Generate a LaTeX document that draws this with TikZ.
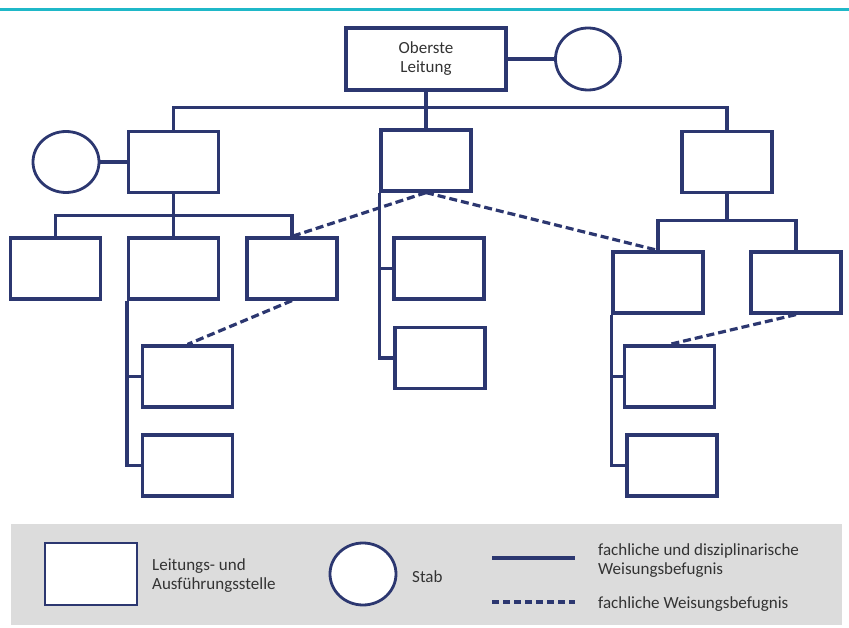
\documentclass[tikz,border=0pt]{standalone}
\usepackage{fontspec}
\setmainfont{Carlito}
\usetikzlibrary{shapes.geometric}
\definecolor{navy}{HTML}{2C3770}
\definecolor{teal2}{HTML}{1FB8C8}
\definecolor{legendgray}{HTML}{DCDCDC}
\definecolor{txt}{HTML}{333333}
\tikzset{
  unit/.style={draw=navy, line width=3.2pt, fill=white, rectangle, minimum width=90pt, minimum height=61pt, inner sep=0pt},
  staff/.style={draw=navy, line width=2.8pt, fill=white, ellipse, minimum width=65pt, minimum height=62pt, inner sep=0pt},
  conn/.style={draw=navy, line width=3.2pt},
  dconn/.style={draw=navy, line width=3.2pt, dash pattern=on 8pt off 4pt},
  lbl/.style={font=\fontsize{17}{19}\selectfont, text=txt, inner sep=0pt}
}
\begin{document}
\begin{tikzpicture}[x=1pt,y=-1pt]
\useasboundingbox (0,0) rectangle (849,628);
% top teal rule
\coordinate (tl) at (0,9.5);
\coordinate (tr) at (849,9.5);
\draw[teal2, line width=2.5pt] (tl) -- (tr);

% boxes
\node[unit, minimum width=160pt, minimum height=62pt, lbl, align=center] (top) at (426,59) {Oberste\\Leitung};
\node[staff] (staffR) at (588,59) {};
\node[unit] (L2a) at (173.5,162) {};
\node[staff, minimum height=61pt, minimum width=66pt] (staffL) at (66,162) {};
\node[unit] (L2b) at (426,160.5) {};
\node[unit] (L2c) at (727,162) {};
\node[unit] (A) at (55.5,268.5) {};
\node[unit] (B) at (173.5,268.5) {};
\node[unit] (C) at (292,268.5) {};
\node[unit] (D) at (187.5,376.5) {};
\node[unit] (E) at (187.5,465.5) {};
\node[unit] (F) at (439,268.5) {};
\node[unit] (G) at (440,358) {};
\node[unit] (H) at (658,282.5) {};
\node[unit] (I) at (796,282.5) {};
\node[unit] (J) at (669.5,376.5) {};
\node[unit] (K) at (672,465.5) {};

% solid connectors
\draw[conn] (top.east) -- (staffR.west);
\draw[conn] (L2a.north) -- ++(0,-22) coordinate (tbus) -| (L2c.north);
\draw[conn] (top.south) -- (L2b.north);
\draw[conn] (staffL.east) -- (L2a.west);
\draw[conn] (A.north) -- ++(0,-21) coordinate (lbus) -| (C.north);
\draw[conn] (L2a.south) -- (B.north);
\draw[conn] (B.south west) |- (E.west);
\draw[conn] (D.west) -- (D.west -| B.south west);
\draw[conn] (L2b.south west) |- (G.west);
\draw[conn] (F.west) -- (F.west -| L2b.south west);
\draw[conn] (H.north) -- ++(0,-29.5) coordinate (rbus) -| (I.north);
\draw[conn] (L2c.south) -- (L2c.south |- rbus);
\draw[conn] (H.south west) |- (K.west);
\draw[conn] (J.west) -- (J.west -| H.south west);

% dashed connectors
\draw[dconn] (L2b.south) -- (C.north);
\draw[dconn] (L2b.south) -- (H.north);
\draw[dconn] (C.south) -- (D.north);
\draw[dconn] (I.south) -- (J.north);

% legend
\fill[legendgray] (11,524) rectangle (842,625);
\node[unit, minimum width=92pt, minimum height=62pt, line width=2.6pt] (legbox) at (91,574) {};
\node[lbl, anchor=west, align=left] (legboxt) at (152,576) {Leitungs- und\\Ausführungsstelle};
\node[staff, minimum width=66pt, minimum height=62pt] (legcirc) at (363,574) {};
\node[lbl, anchor=west] (legcirct) at (412,577) {Stab};
\coordinate (s1) at (492,558);
\coordinate (s2) at (575,558);
\draw[conn] (s1) -- (s2);
\node[lbl, anchor=west, align=left] (solidt) at (598,561) {fachliche und disziplinarische\\Weisungsbefugnis};
\coordinate (d1) at (492,602);
\coordinate (d2) at (575,602);
\draw[dconn, dash pattern=on 7pt off 4pt] (d1) -- (d2);
\node[lbl, anchor=west] (dasht) at (598,604) {fachliche Weisungsbefugnis};
\end{tikzpicture}
\end{document}
